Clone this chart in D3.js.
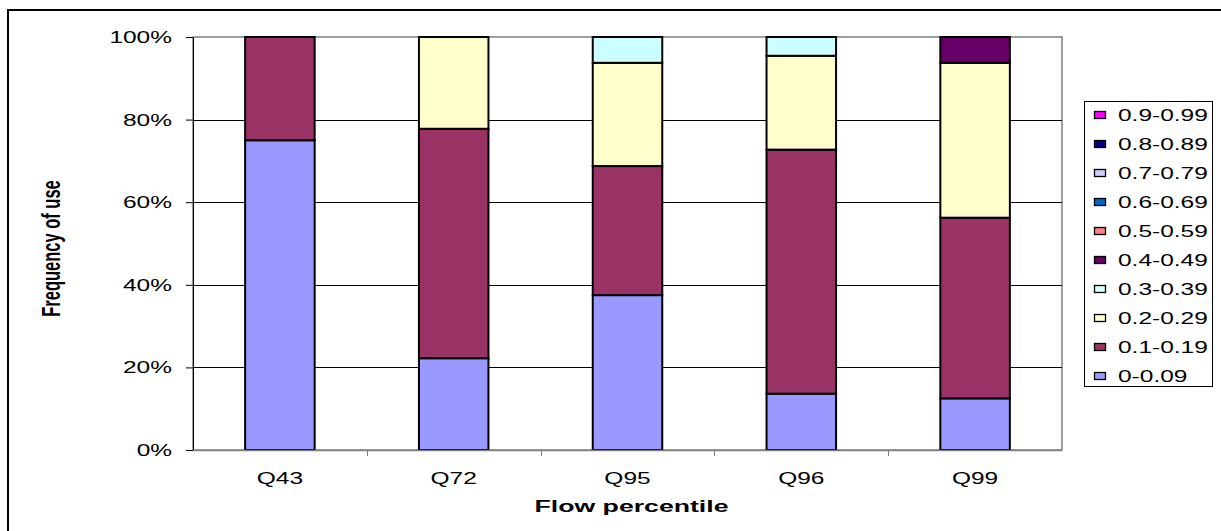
<!DOCTYPE html>
<html>
<head>
<meta charset="utf-8">
<script src="https://cdn.jsdelivr.net/npm/d3@7/dist/d3.min.js"></script>
<style>
  html, body { margin: 0; padding: 0; background: #fff; }
  svg { display: block; font-family: "Liberation Sans", Arial, sans-serif; }
</style>
</head>
<body>
<svg id="chart" width="1221" height="531"></svg>
<script>
// Flow percentiles on the x axis
const categories = ["Q43", "Q72", "Q95", "Q96", "Q99"];

// Bins of use, bottom of the stack first
const bins = ["0-0.09", "0.1-0.19", "0.2-0.29", "0.3-0.39", "0.4-0.49",
              "0.5-0.59", "0.6-0.69", "0.7-0.79", "0.8-0.89", "0.9-0.99"];

// Share (%) of each bin per percentile
const v_0_009   = [75.0, 22.22, 37.5, 13.64, 12.5];
const v_01_019  = [25.0, 55.56, 31.25, 59.09, 43.75];
const v_02_029  = [0, 22.22, 25.0, 22.73, 37.5];
const v_03_039  = [0, 0, 6.25, 4.54, 0];
const v_04_049  = [0, 0, 0, 0, 6.25];
const v_05_059  = [0, 0, 0, 0, 0];
const v_06_069  = [0, 0, 0, 0, 0];
const v_07_079  = [0, 0, 0, 0, 0];
const v_08_089  = [0, 0, 0, 0, 0];
const v_09_099  = [0, 0, 0, 0, 0];

const yTicks = [0, 20, 40, 60, 80, 100];

const binColors = ["#9999FF", "#993366", "#FFFFCC", "#CCFFFF", "#660066",
                   "#FF8080", "#0066CC", "#CCCCFF", "#000080", "#FF00FF"];

const seriesValues = [v_0_009, v_01_019, v_02_029, v_03_039, v_04_049,
                      v_05_059, v_06_069, v_07_079, v_08_089, v_09_099];

// The whole chart is drawn horizontally widened; text glyphs get the same stretch
const STRETCH = 1.53;
const FONT = 16;

// Build a table for d3.stack
const table = categories.map((c, i) => {
  const row = { cat: c };
  bins.forEach((b, j) => { row[b] = seriesValues[j][i]; });
  return row;
});

const svg = d3.select("#chart");

// Outer chart frame
svg.append("rect")
  .attr("x", 8).attr("y", 10).attr("width", 1240).attr("height", 560)
  .attr("fill", "none").attr("stroke", "#000").attr("stroke-width", 2);

const plot = { left: 193, right: 1062, top: 37, bottom: 450 };

const x = d3.scaleBand().domain(categories)
  .range([plot.left, plot.right]).paddingInner(0.6).paddingOuter(0.3);
const xOuter = d3.scaleBand().domain(categories).range([plot.left, plot.right]);
const y = d3.scaleLinear().domain([0, 100]).range([plot.bottom, plot.top]);

// Plot area border (grey)
svg.append("rect")
  .attr("x", plot.left).attr("y", plot.top)
  .attr("width", plot.right - plot.left).attr("height", plot.bottom - plot.top)
  .attr("fill", "#fff").attr("stroke", "#808080").attr("stroke-width", 1.5);

// Horizontal gridlines
svg.append("g").selectAll("line")
  .data(yTicks.filter(t => t > 0 && t < 100))
  .join("line")
  .attr("x1", plot.left).attr("x2", plot.right)
  .attr("y1", d => Math.round(y(d)) + 0.5).attr("y2", d => Math.round(y(d)) + 0.5)
  .attr("stroke", "#000").attr("stroke-width", 1);

// Stacked bars
const stack = d3.stack().keys(bins);
const layers = stack(table);

svg.append("g").selectAll("g")
  .data(layers)
  .join("g")
  .attr("fill", (d, i) => binColors[i])
  .selectAll("rect")
  .data(d => d.filter(s => s[1] - s[0] > 0))
  .join("rect")
  .attr("x", d => x(d.data.cat))
  .attr("width", x.bandwidth())
  .attr("y", d => y(Math.min(100, d[1])))
  .attr("height", d => y(d[0]) - y(Math.min(100, d[1])))
  .attr("stroke", "#000").attr("stroke-width", 2);

// Y axis
const yAxis = d3.axisLeft(y).tickValues(yTicks)
  .tickFormat(d => d + "%").tickSize(7).tickSizeOuter(0).tickPadding(14);
const gy = svg.append("g").attr("transform", `translate(${plot.left},0)`).call(yAxis);
gy.select(".domain").attr("stroke", "#000");
gy.selectAll(".tick line").attr("stroke", "#000");
gy.selectAll("text").attr("font-size", FONT).attr("fill", "#000")
  .attr("font-family", "'Liberation Sans', Arial, sans-serif")
  .attr("dy", "0.34em")
  .attr("class", "wide");

// X axis: ticks sit on the category boundaries
const gx = svg.append("g").attr("transform", `translate(0,${plot.bottom})`);
gx.append("line")
  .attr("x1", plot.left).attr("x2", plot.right)
  .attr("y1", 0.5).attr("y2", 0.5).attr("stroke", "#808080").attr("stroke-width", 1.5);
gx.selectAll("line.tick")
  .data(categories.slice(1))
  .join("line").attr("class", "tick")
  .attr("x1", d => Math.round(xOuter(d)) + 0.5).attr("x2", d => Math.round(xOuter(d)) + 0.5)
  .attr("y1", 0).attr("y2", 6).attr("stroke", "#808080");
gx.selectAll("text")
  .data(categories)
  .join("text")
  .attr("class", "wide")
  .attr("x", d => xOuter(d) + xOuter.bandwidth() / 2)
  .attr("y", 34)
  .attr("text-anchor", "middle")
  .attr("font-size", FONT)
  .text(d => d);

// Axis titles
svg.append("text")
  .attr("x", (plot.left + plot.right) / 2 + 4).attr("y", 512)
  .attr("text-anchor", "middle")
  .attr("font-size", FONT).attr("font-weight", "bold")
  .attr("textLength", 194).attr("lengthAdjust", "spacingAndGlyphs")
  .text("Flow percentile");

svg.append("text")
  .attr("transform", `translate(60,${(plot.top + plot.bottom) / 2 + 5}) scale(${STRETCH},1) rotate(-90)`)
  .attr("text-anchor", "middle")
  .attr("font-size", 16.5).attr("font-weight", "bold")
  .text("Frequency of use");

// Legend (highest bin at top)
const legend = svg.append("g");
legend.append("rect")
  .attr("x", 1084.5).attr("y", 101.5).attr("width", 128).attr("height", 285)
  .attr("fill", "#fff").attr("stroke", "#000").attr("stroke-width", 1);

const legendItems = bins.map((b, i) => ({ label: b, color: binColors[i] })).reverse();
const ly = d3.scaleBand().domain(legendItems.map(d => d.label)).range([100.5, 390.5]);

const li = legend.selectAll("g.item")
  .data(legendItems)
  .join("g").attr("class", "item")
  .attr("transform", d => `translate(0,${ly(d.label) + ly.bandwidth() / 2})`);
li.append("rect")
  .attr("x", 1094.5).attr("y", -3.5).attr("width", 11).attr("height", 7)
  .attr("fill", d => d.color).attr("stroke", "#000").attr("stroke-width", 1.3);
li.append("text")
  .attr("class", "wide")
  .attr("x", 1118).attr("y", 5.7)
  .attr("font-size", FONT)
  .text(d => d.label);

// Widen regular labels by the chart's horizontal stretch
svg.selectAll("text.wide").each(function () {
  const w = this.getComputedTextLength();
  d3.select(this).attr("textLength", w * STRETCH).attr("lengthAdjust", "spacingAndGlyphs");
});
</script>
</body>
</html>
